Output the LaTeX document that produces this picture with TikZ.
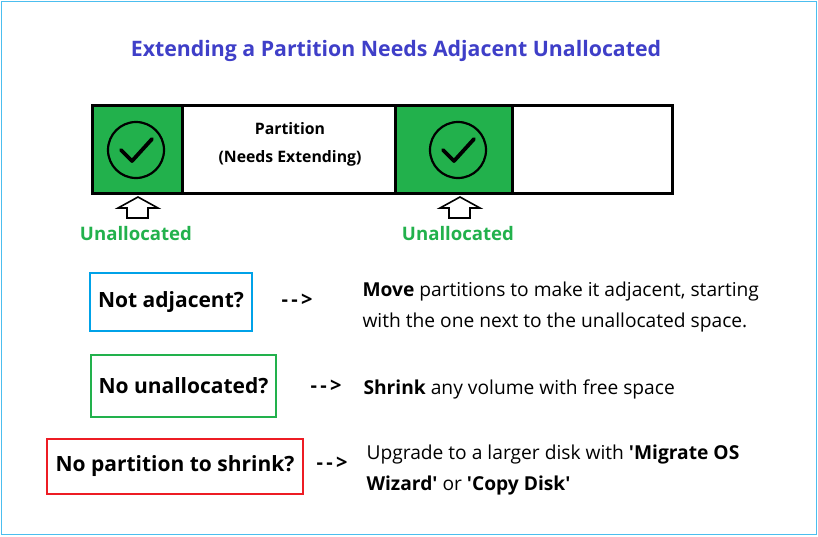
\documentclass[tikz,border=0pt]{standalone}
\usepackage{fontspec}
\setmainfont{Open Sans}
\usetikzlibrary{positioning}
\definecolor{titleblue}{HTML}{3F3FC8}
\definecolor{pgreen}{HTML}{22B14C}
\definecolor{pblue}{HTML}{00A2E8}
\definecolor{pred}{HTML}{ED1C24}
\newcommand{\sq}{\textquotesingle}
\tikzset{
  qbox/.style={draw=#1,line width=2.2pt,inner xsep=0pt,font=\fontsize{21}{24}\selectfont\bfseries},
  dashto/.style={font=\fontsize{20}{22}\selectfont\bfseries},
  answer/.style={anchor=west,align=left,font=\fontsize{19.2}{31}\selectfont},
  unlab/.style={text=pgreen,font=\fontsize{18.6}{20}\selectfont\bfseries},
  uparrow/.style={draw,line width=1.6pt,fill=white,line join=miter}
}
\begin{document}
\begin{tikzpicture}[x=1pt,y=-1pt]
  \useasboundingbox (0,0) rectangle (818,536);
  \draw[pblue!70,line width=0.8pt] (1,1) rectangle (816,534);
  \node[text=titleblue,font=\fontsize{21.3}{24}\selectfont\bfseries] (title) at (396,51) {Extending a Partition Needs Adjacent Unallocated};
  % the disk bar
  \fill[pgreen] (92,105) rectangle (182,193);
  \fill[pgreen] (395,105) rectangle (512,193);
  \draw[line width=3pt] (92,105) rectangle (672,193);
  \foreach \x in {182,395,512}{
    \draw[line width=3pt] (\x,105) -- (\x,193);
  }
  \foreach \x/\n in {136/a,458/b}{
    \draw[line width=2.2pt] (\x,150) circle (28);
    \draw[line width=3.8pt,line cap=round,line join=round] (\x-15,150) -- (\x-4,161) -- (\x+16,139);
    \draw[uparrow] (\x+2,197) -- (\x+22,208) -- (\x+12,208) -- (\x+12,218) -- (\x-9,218) -- (\x-9,208) -- (\x-18,208) -- cycle;
    \coordinate (arr\n) at (\x,218);
  }
  \node[font=\fontsize{15.8}{28}\selectfont\bfseries,align=center] (part) at (290,144) {Partition\\(Needs Extending)};
  \node[unlab,below=5pt of arra] (una) {Unallocated};
  \node[unlab,below=5pt of arrb] (unb) {Unallocated};
  % questions
  \node[qbox=pblue,minimum width=162pt,minimum height=58pt] (q1) at (171,302) {Not adjacent?};
  \node[qbox=pgreen,minimum width=185pt,minimum height=62pt] (q2) at (183.5,386) {No unallocated?};
  \node[qbox=pred,minimum width=256pt,minimum height=55pt] (q3) at (175,466.5) {No partition to shrink?};
  \node[dashto] (d1) at (297,300) {-\,-\,>};
  \node[dashto] (d2) at (326,386) {-\,-\,>};
  \node[dashto] (d3) at (332,463) {-\,-\,>};
  \node[answer] (a1) at (359,307) {\textbf{Move} partitions to make it adjacent, starting\\with the one next to the unallocated space.};
  \node[answer] (a2) at (360,389) {\textbf{Shrink} any volume with free space};
  \node[answer] (a3) at (363,470) {Upgrade to a larger disk with \textbf{\sq Migrate OS}\\\textbf{Wizard\sq} or \textbf{\sq Copy Disk\sq}};
\end{tikzpicture}
\end{document}
